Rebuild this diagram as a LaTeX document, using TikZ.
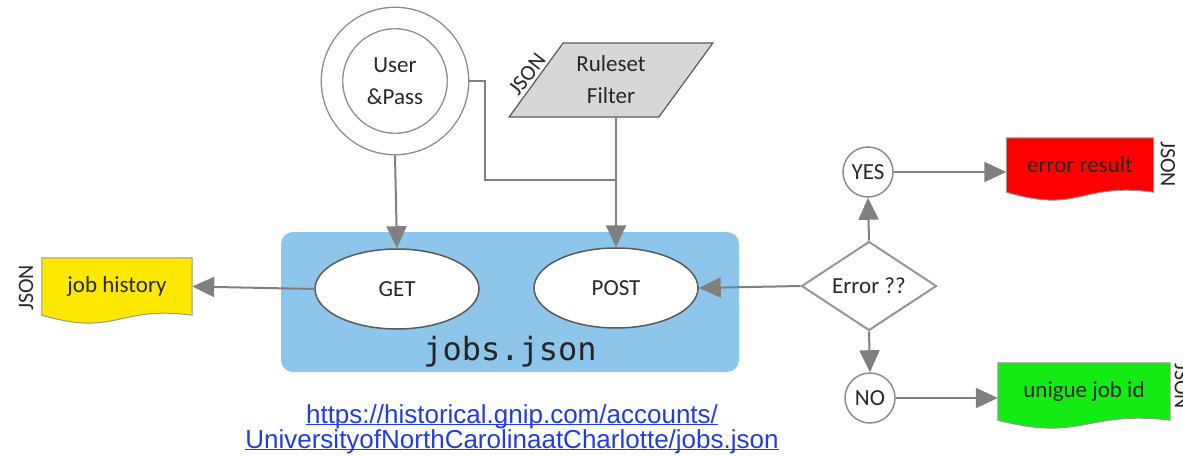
\documentclass[tikz,border=0pt]{standalone}
\usepackage{fontspec}
\setmainfont{Carlito}
\newfontfamily\jsonmono{DejaVu Sans Mono}
\newfontfamily\linkfont{Liberation Sans}
\usetikzlibrary{shapes.geometric, arrows.meta, backgrounds}

\definecolor{linegray}{RGB}{128,128,128}
\definecolor{edgegray}{RGB}{90,90,90}
\definecolor{circgray}{RGB}{140,140,140}
\definecolor{diagray}{RGB}{150,150,150}
\definecolor{docgray}{RGB}{150,150,150}
\definecolor{inkgray}{RGB}{40,40,40}
\definecolor{filtergray}{RGB}{215,215,215}
\definecolor{jobsblue}{RGB}{142,197,235}
\definecolor{histyellow}{RGB}{255,232,0}
\definecolor{errred}{RGB}{255,0,0}
\definecolor{idgreen}{RGB}{20,235,20}
\definecolor{linkblue}{RGB}{35,60,225}

\newcommand{\linkline}[1]{\underline{\raisebox{0pt}[\height][0pt]{#1}}}

\begin{document}
\begin{tikzpicture}[x=1pt, y=-1pt,
    every node/.style={font=\fontsize{23}{32}\selectfont, text=inkgray},
    flow/.style={draw=linegray, line width=2pt},
    arr/.style={flow, -{Triangle[length=22pt, width=20pt]}},
    method/.style={ellipse, draw=edgegray, line width=1.5pt, fill=white, minimum width=164pt, minimum height=80pt},
    answer/.style={circle, draw=circgray, line width=1.5pt, fill=white, minimum size=50pt, inner sep=0pt},
    doc/.style={rectangle, inner sep=0pt},
    tag/.style={font=\fontsize{22}{22}\selectfont, inner sep=1pt},
    link/.style={font=\linkfont\fontsize{26}{26}\selectfont, text=linkblue, inner sep=0pt}]

    \useasboundingbox (0,0) rectangle (1183,455);

    % Inputs
    \node[circle, draw=circgray, line width=1.4pt, double=white, double distance=20pt, minimum size=126pt, outer sep=11.4pt, align=center] (UP) at (395,81) {User\\\&Pass};
    \node[trapezium, trapezium left angle=52, trapezium right angle=128, trapezium stretches=true, draw=edgegray, line width=1.2pt, fill=filtergray, minimum width=204pt, minimum height=74pt, align=center] (RF) at (611,80) {Ruleset\\Filter};
    \node[tag, rotate=52, anchor=south, inner sep=0pt] (RFtag) at (533,79) {JSON};

    % jobs.json box
    \node[rectangle, rounded corners=12pt, fill=jobsblue, minimum width=458pt, minimum height=140pt] (JB) at (510,302) {};
    \node[method] (GET) at (397,289) {GET};
    \node[method] (POST) at (616,288) {POST};
    \node[font=\jsonmono\fontsize{32}{32}\selectfont, text=black!85, anchor=base] (JBname) at (510,360) {jobs.json};

    % Outputs
    \node[doc, minimum width=150pt, minimum height=57pt] (HIST) at (117,286.5) {job history};
    \node[tag, rotate=90] (HISTtag) at (26,288) {JSON};
    \node[diamond, draw=diagray, line width=2pt, fill=white, aspect=1.5, inner sep=0pt, minimum width=135pt, minimum height=89pt] (ERR) at (869,286) {Error ??};
    \node[answer] (YES) at (868,172) {YES};
    \node[answer] (NO) at (870,398) {NO};
    \node[doc, minimum width=147pt, minimum height=54pt] (ERES) at (1080,165) {error result};
    \node[tag, rotate=-90] (EREStag) at (1168,164) {JSON};
    \node[doc, minimum width=172pt, minimum height=57pt] (UID) at (1084,391.5) {unigue job id};
    \node[tag, rotate=-90] (UIDtag) at (1182,386) {JSON};

    % Link
    \node[link, anchor=base] (URL1) at (512,423) {\linkline{https://historical.gnip.com/accounts/}};
    \node[link, anchor=base] (URL2) at (512,448) {\linkline{UniversityofNorthCarolinaatCharlotte/jobs.json}};

    % Document outlines
    \begin{scope}[on background layer]
        \foreach \d/\c/\w in {HIST/histyellow/75, ERES/errred/74, UID/idgreen/86}
            \draw[draw=docgray, line width=1pt, fill=\c] (\d.north west) -- (\d.north east) -- (\d.south east)
                .. controls +(-\w,-10) and +(\w,22) .. (\d.south west) -- cycle;
    \end{scope}

    % Edges
    \coordinate (J1) at (616,180);
    \draw[arr] (UP.south) -- (GET.north);
    \draw[flow] (UP.east) -- ++(16,0) |- (J1);
    \draw[arr] (RF.south -| POST.north) -- (POST.north);
    \draw[arr] (GET.west) -- (HIST.east);
    \draw[arr] (ERR.west) -- (POST.east);
    \draw[arr] (ERR.north) -- (YES.south);
    \draw[arr] (YES.east) -- (YES.east -| ERES.west);
    \draw[arr] (ERR.south) -- (NO.north);
    \draw[arr] (NO.east) -- (NO.east -| UID.west);
    \draw[draw=docgray, line width=0.8pt, dash pattern=on 6pt off 11pt] ([yshift=-38pt]UID.south) -- ++(0,26);
\end{tikzpicture}
\end{document}
